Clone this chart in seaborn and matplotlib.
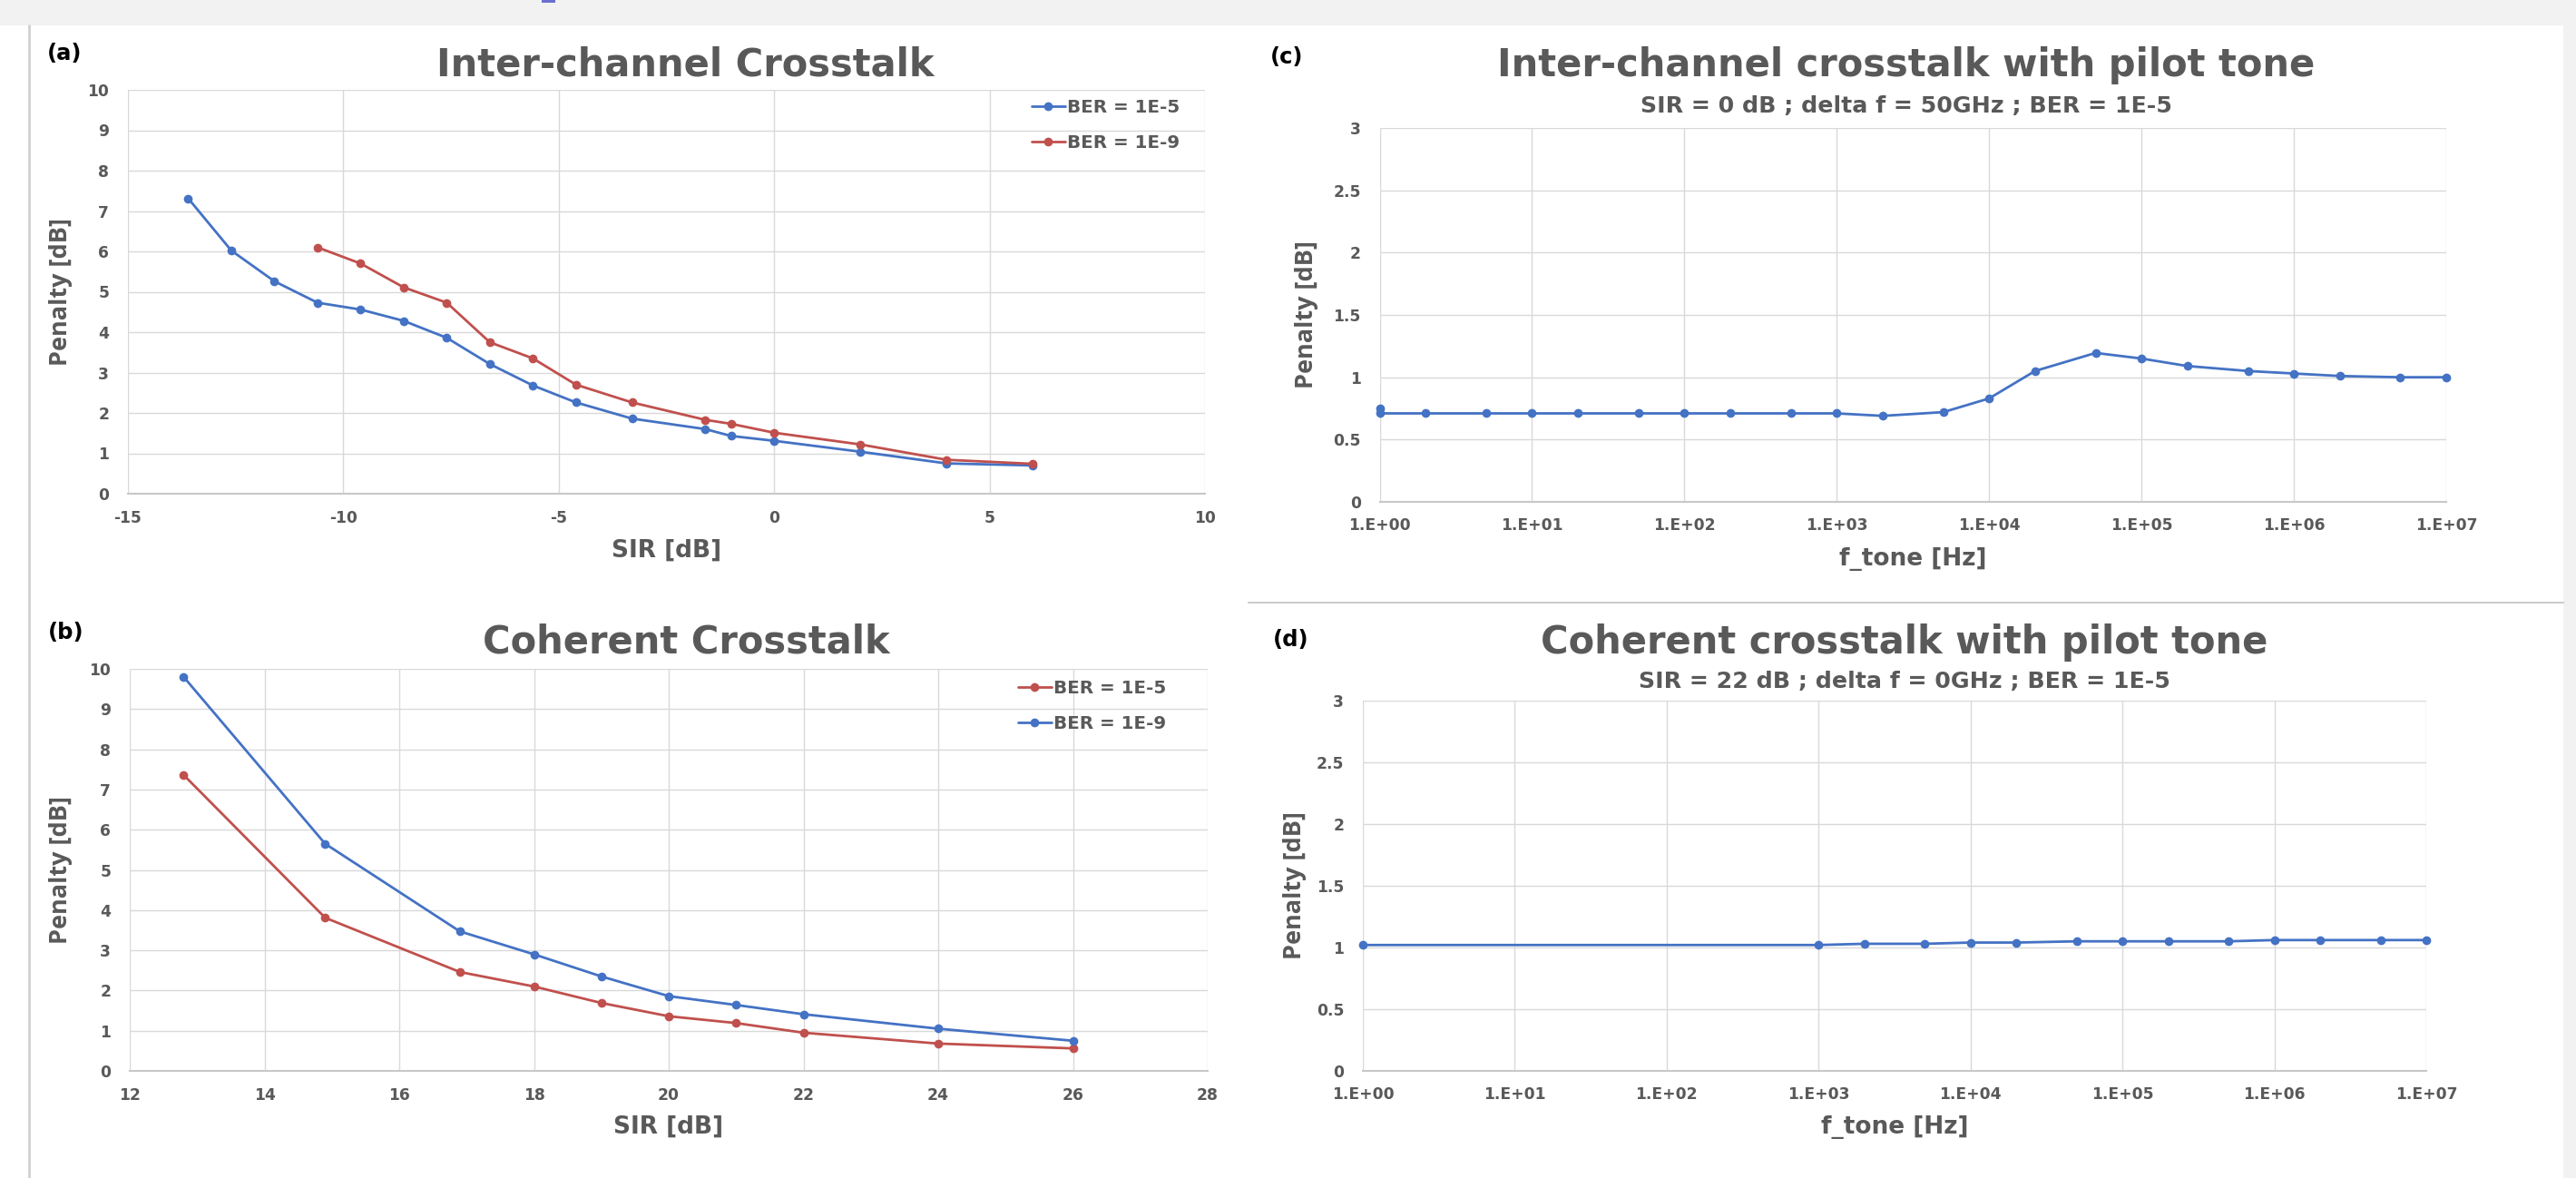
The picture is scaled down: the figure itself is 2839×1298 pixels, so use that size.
import numpy as np
import pandas as pd
import seaborn as sns
import matplotlib
matplotlib.use("Agg")
import matplotlib.pyplot as plt
from matplotlib.patches import Rectangle
from matplotlib.lines import Line2D
from matplotlib.ticker import FixedLocator, FuncFormatter, NullLocator

# ---------------- data ----------------
a_sir_1e5 = [-13.6, -12.6, -11.6, -10.6, -9.6, -8.6, -7.6, -6.6, -5.6, -4.6, -3.3, -1.6, -1.0, 0, 2, 4, 6]
a_pen_1e5 = [7.31, 6.02, 5.26, 4.73, 4.56, 4.28, 3.86, 3.21, 2.68, 2.26, 1.86, 1.60, 1.43, 1.31, 1.04, 0.75, 0.70]
a_sir_1e9 = [-10.6, -9.6, -8.6, -7.6, -6.6, -5.6, -4.6, -3.3, -1.6, -1.0, 0, 2, 4, 6]
a_pen_1e9 = [6.10, 5.70, 5.11, 4.73, 3.75, 3.35, 2.70, 2.26, 1.83, 1.73, 1.51, 1.22, 0.84, 0.74]

b_sir = [12.8, 14.9, 16.9, 18, 19, 20, 21, 22, 24, 26]
b_pen_1e5 = [7.36, 3.81, 2.46, 2.10, 1.69, 1.36, 1.19, 0.95, 0.68, 0.56]
b_pen_1e9 = [9.80, 5.65, 3.47, 2.90, 2.35, 1.86, 1.64, 1.41, 1.05, 0.75]

c_ftone = [1, 1, 2, 5, 10, 20, 50, 100, 200, 500, 1e3, 2e3, 5e3, 1e4, 2e4, 5e4,
           1e5, 2e5, 5e5, 1e6, 2e6, 5e6, 1e7]
c_pen = [0.75, 0.71, 0.71, 0.71, 0.71, 0.71, 0.71, 0.71, 0.71, 0.71, 0.71, 0.69, 0.72,
         0.83, 1.05, 1.195, 1.15, 1.09, 1.05, 1.03, 1.01, 1.00, 1.00]

d_ftone = [1, 1e3, 2e3, 5e3, 1e4, 2e4, 5e4, 1e5, 2e5, 5e5, 1e6, 2e6, 5e6, 1e7]
d_pen = [1.02, 1.02, 1.03, 1.03, 1.04, 1.04, 1.05, 1.05, 1.05, 1.05, 1.06, 1.06, 1.06, 1.06]

lin_xticks_a = [-15, -10, -5, 0, 5, 10]
lin_xticks_b = [12, 14, 16, 18, 20, 22, 24, 26, 28]
yticks_ab = list(range(0, 11))
yticks_cd = [0, 0.5, 1, 1.5, 2, 2.5, 3]
ytick_labels_cd = ["0", "0.5", "1", "1.5", "2", "2.5", "3"]
log_xticks = [1e0, 1e1, 1e2, 1e3, 1e4, 1e5, 1e6, 1e7]

titles = ["Inter-channel Crosstalk", "Coherent Crosstalk",
          "Inter-channel crosstalk with pilot tone", "Coherent crosstalk with pilot tone"]
subtitles = ["SIR = 0 dB ; delta f = 50GHz ; BER = 1E-5",
             "SIR = 22 dB ; delta f = 0GHz ; BER = 1E-5"]
panel_tags = ["(a)", "(b)", "(c)", "(d)"]
labels_a = ["BER = 1E-5", "BER = 1E-9"]
labels_b = ["BER = 1E-5", "BER = 1E-9"]

BLUE = "#4472C4"
RED = "#C0504D"
GRAY_TXT = "#595959"
GRID = "#d9d9d9"

# ---------------- style ----------------
sns.set_style("white")
plt.rcParams["font.family"] = ["DejaVu Sans"]
plt.rcParams["axes.unicode_minus"] = False

W, H = 2839, 1298
fig = plt.figure(figsize=(W / 100, H / 100), dpi=100)
fig.patch.set_facecolor("white")


def fx(px):
    return px / W


def fy(py):
    return 1 - py / H


def ax_rect(left, right, top, bottom):
    return [fx(left), fy(bottom), (right - left) / W, (bottom - top) / H]


# background decorations (slide frame)
fig.patches.append(Rectangle((0, fy(28)), 1, 28 / H, transform=fig.transFigure,
                             facecolor="#f2f2f2", edgecolor="none", zorder=-10))
fig.patches.append(Rectangle((fx(2825), 0), 1 - fx(2825), fy(28), transform=fig.transFigure,
                             facecolor="#f2f2f2", edgecolor="none", zorder=-10))
fig.patches.append(Rectangle((fx(597), fy(3)), 15 / W, 3 / H, transform=fig.transFigure,
                             facecolor="#6b6fd0", edgecolor="none", zorder=-9))
fig.lines.append(Line2D([fx(32), fx(32)], [0, fy(28)], transform=fig.transFigure,
                        color="#d0d0d0", lw=2))
fig.lines.append(Line2D([fx(1376), fx(2825)], [fy(664), fy(664)], transform=fig.transFigure,
                        color="#cccccc", lw=1.5))

axA = fig.add_axes(ax_rect(141, 1328, 99, 544))
axB = fig.add_axes(ax_rect(143, 1331, 737, 1180))
axC = fig.add_axes(ax_rect(1520.5, 2696, 141, 553))
axD = fig.add_axes(ax_rect(1502, 2674, 772, 1180))

LW = 2.0
MS = 7.0

# ---- panel (a)
dfA = pd.DataFrame({
    "SIR": a_sir_1e5 + a_sir_1e9,
    "Penalty": a_pen_1e5 + a_pen_1e9,
    "series": [labels_a[0]] * len(a_sir_1e5) + [labels_a[1]] * len(a_sir_1e9),
})
sns.lineplot(data=dfA, x="SIR", y="Penalty", hue="series", hue_order=labels_a,
             palette=[BLUE, RED], marker="o", markersize=MS, markeredgewidth=0,
             linewidth=LW, estimator=None, sort=False, legend=False, ax=axA)
axA.set_xlim(-15, 10)
axA.set_ylim(0, 10)
axA.xaxis.set_major_locator(FixedLocator(lin_xticks_a))
axA.yaxis.set_major_locator(FixedLocator(yticks_ab))

# ---- panel (b)
dfB = pd.DataFrame({
    "SIR": b_sir + b_sir,
    "Penalty": b_pen_1e5 + b_pen_1e9,
    "series": [labels_b[0]] * len(b_sir) + [labels_b[1]] * len(b_sir),
})
sns.lineplot(data=dfB, x="SIR", y="Penalty", hue="series", hue_order=labels_b,
             palette=[RED, BLUE], marker="o", markersize=MS, markeredgewidth=0,
             linewidth=LW, estimator=None, sort=False, legend=False, ax=axB)
axB.set_xlim(12, 28)
axB.set_ylim(0, 10)
axB.xaxis.set_major_locator(FixedLocator(lin_xticks_b))
axB.yaxis.set_major_locator(FixedLocator(yticks_ab))

# ---- panel (c)
dfC = pd.DataFrame({"f": c_ftone, "Penalty": c_pen})
sns.lineplot(data=dfC, x="f", y="Penalty", color=BLUE, marker="o", markersize=MS,
             markeredgewidth=0, linewidth=LW, estimator=None, sort=False, ax=axC)

# ---- panel (d)
dfD = pd.DataFrame({"f": d_ftone, "Penalty": d_pen})
sns.lineplot(data=dfD, x="f", y="Penalty", color=BLUE, marker="o", markersize=MS,
             markeredgewidth=0, linewidth=LW, estimator=None, sort=False, ax=axD)

logfmt = FuncFormatter(lambda v, p: "1.E+%02d" % int(round(np.log10(v))))
for ax in (axC, axD):
    ax.set_xscale("log")
    ax.set_xlim(1, 1e7)
    ax.set_ylim(0, 3)
    ax.xaxis.set_major_locator(FixedLocator(log_xticks))
    ax.xaxis.set_minor_locator(NullLocator())
    ax.xaxis.set_major_formatter(logfmt)
    ax.yaxis.set_major_locator(FixedLocator(yticks_cd))
    ax.set_yticklabels(ytick_labels_cd)

TICK_FS = 12.3
# ---- common styling
for ax in (axA, axB, axC, axD):
    ax.set_facecolor("white")
    ax.grid(True, color=GRID, lw=1.0)
    ax.set_axisbelow(True)
    for s in ("left", "top", "right"):
        ax.spines[s].set_visible(False)
    ax.spines["bottom"].set_color("#c8c8c8")
    ax.spines["bottom"].set_linewidth(1.5)
    ax.tick_params(axis="both", length=0, labelsize=TICK_FS, labelcolor=GRAY_TXT)
    ax.tick_params(axis="y", pad=15)
    ax.tick_params(axis="x", pad=13)
    for t in ax.get_xticklabels() + ax.get_yticklabels():
        t.set_fontweight("bold")
    for ln in ax.lines:
        ln.set_clip_on(False)
    ax.set_ylabel("Penalty [dB]", fontsize=19.5, fontweight="bold", color=GRAY_TXT,
                  family=["Open Sans", "DejaVu Sans"])

for ax in (axC, axD):
    ax.tick_params(axis="x", length=6, color="#c8c8c8", width=1.2, pad=6)

XL_FS = 19
axA.set_xlabel("SIR [dB]", fontsize=XL_FS, fontweight="bold", color=GRAY_TXT)
axB.set_xlabel("SIR [dB]", fontsize=XL_FS, fontweight="bold", color=GRAY_TXT)
axC.set_xlabel("f_tone [Hz]", fontsize=XL_FS, fontweight="bold", color=GRAY_TXT)
axD.set_xlabel("f_tone [Hz]", fontsize=XL_FS, fontweight="bold", color=GRAY_TXT)

label_pos = {
    axA: ((0.5, -0.1416), (-0.0623, 0.5)),
    axB: ((0.5, -0.140), (-0.064, 0.5)),
    axC: ((0.5, -0.153), (-0.0685, 0.5)),
    axD: ((0.5, -0.152), (-0.064, 0.5)),
}
for ax, (xl, yl) in label_pos.items():
    ax.xaxis.set_label_coords(*xl)
    ax.xaxis.label.set_va("center")
    ax.yaxis.set_label_coords(*yl)
    ax.yaxis.label.set_va("center")

# legends
for ax, labels, anchor in ((axA, labels_a, (0.839, 0.977)), (axB, labels_b, (0.824, 0.972))):
    handles = ax.lines[:2]
    leg = ax.legend(handles, labels, loc="upper left", bbox_to_anchor=anchor,
                    frameon=False, fontsize=14.3, handlelength=1.85, handletextpad=0.12,
                    labelspacing=1.0, borderpad=0, borderaxespad=0)
    for t in leg.get_texts():
        t.set_color(GRAY_TXT)
        t.set_fontweight("bold")

# titles, subtitles and panel tags
TITLE_FS = 30
SUB_FS = 18.2
fig.text(fx(755), fy(84), titles[0], ha="center", va="baseline", fontsize=TITLE_FS,
         fontweight="bold", color=GRAY_TXT)
fig.text(fx(756), fy(720), titles[1], ha="center", va="baseline", fontsize=TITLE_FS,
         fontweight="bold", color=GRAY_TXT)
fig.text(fx(2101), fy(84), titles[2], ha="center", va="baseline", fontsize=TITLE_FS,
         fontweight="bold", color=GRAY_TXT)
fig.text(fx(2099), fy(720), titles[3], ha="center", va="baseline", fontsize=TITLE_FS,
         fontweight="bold", color=GRAY_TXT)
fig.text(fx(2101), fy(117), subtitles[0], ha="center", va="center", fontsize=SUB_FS,
         fontweight="bold", color=GRAY_TXT)
fig.text(fx(2099), fy(751), subtitles[1], ha="center", va="center", fontsize=SUB_FS,
         fontweight="bold", color=GRAY_TXT)

for tag, (px, py) in zip(panel_tags, [(52, 59), (53, 697), (1400, 63), (1403, 705)]):
    fig.text(fx(px), fy(py), tag, ha="left", va="center", fontsize=17.5,
             fontweight="bold", color="black")

fig.savefig("out.png", dpi=100, facecolor=fig.get_facecolor())
